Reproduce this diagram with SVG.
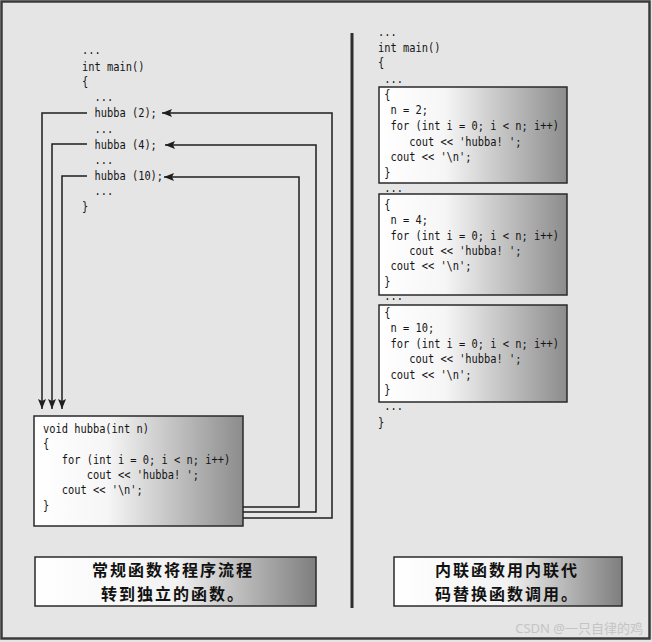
<svg xmlns="http://www.w3.org/2000/svg" width="652" height="642" viewBox="0 0 652 642">
<defs>
  <linearGradient id="gBox" x1="0" y1="0" x2="1" y2="0">
    <stop offset="0" stop-color="#ffffff"/>
    <stop offset="0.35" stop-color="#f6f6f6"/>
    <stop offset="1" stop-color="#8c8c8c"/>
  </linearGradient>
  <linearGradient id="gLabel" x1="0" y1="0" x2="1" y2="0">
    <stop offset="0" stop-color="#ffffff"/>
    <stop offset="0.5" stop-color="#f2f2f2"/>
    <stop offset="1" stop-color="#7e7e7e"/>
  </linearGradient>
  <marker id="ah" markerWidth="10" markerHeight="8" refX="10" refY="4" orient="auto" markerUnits="userSpaceOnUse">
    <path d="M0,0 L10,4 L0,8 L2,4 z" fill="#1e1e1e"/>
  </marker>
</defs>
<style>
  .code { font-family: "DejaVu Sans Mono", "Liberation Mono", monospace; font-size: 12.5px; fill: #141414; }
  .box { fill: url(#gBox); stroke: #2a2a2a; stroke-width: 1.5; }
  .label { fill: url(#gLabel); stroke: #2a2a2a; stroke-width: 1.5; }
  .lt { font-family: "Noto Sans CJK SC", sans-serif; font-weight: bold; font-size: 16px; letter-spacing: 2px; fill: #111; text-anchor: middle; }
  .conn { fill: none; stroke: #1e1e1e; stroke-width: 1.5; }
  .arr { marker-end: url(#ah); }
</style>
<rect x="0" y="0" width="652" height="642" fill="#e5e5e5"/>
<rect x="1.5" y="1.5" width="648" height="637" fill="none" stroke="#3a3a3a" stroke-width="2.5"/>

<!-- divider -->
<line x1="352" y1="33" x2="352" y2="608" stroke="#2e2e2e" stroke-width="3"/>

<!-- left: main() code -->
<g id="main-left">
  <g class="code" transform="translate(82,0) scale(0.83,1)">
    <text x="0" y="54">...</text>
    <text x="0" y="71">int main()</text>
    <text x="0" y="86">{</text>
    <text x="15.06" y="101">...</text>
    <text x="15.06" y="117">hubba (2);</text>
    <text x="15.06" y="133">...</text>
    <text x="15.06" y="149">hubba (4);</text>
    <text x="15.06" y="164">...</text>
    <text x="15.06" y="180">hubba (10);</text>
    <text x="15.06" y="195">...</text>
    <text x="0" y="211">}</text>
  </g>
</g>

<!-- left: hubba function box -->
<g id="hubba-func">
  <rect class="box" x="34" y="416" width="209" height="110"/>
  <g class="code" transform="translate(43,0) scale(0.83,1)">
    <text x="0" y="433">void hubba(int n)</text>
    <text x="0" y="448">{</text>
    <text x="22.6" y="464">for (int i = 0; i &lt; n; i++)</text>
    <text x="52.7" y="479">cout &lt;&lt; 'hubba! ';</text>
    <text x="22.6" y="494">cout &lt;&lt; '\n';</text>
    <text x="0" y="510">}</text>
  </g>
</g>

<!-- connectors -->
<g id="connectors">
  <path class="conn arr" d="M87,113 H42 V409"/>
  <path class="conn arr" d="M87,144 H52 V409"/>
  <path class="conn arr" d="M87,176 H62 V409"/>
  <path class="conn arr" d="M243,518 H332 V113 H162"/>
  <path class="conn arr" d="M243,512 H316 V145 H165"/>
  <path class="conn arr" d="M243,507 H299 V177 H164"/>
</g>

<!-- right: inline main() -->
<g id="main-right">
  <g class="code" transform="translate(378,0) scale(0.83,1)">
    <text x="0" y="36">...</text>
    <text x="0" y="52">int main()</text>
    <text x="0" y="67">{</text>
    <text x="7.53" y="83">...</text>
    <text x="7.53" y="192">...</text>
    <text x="7.53" y="300">...</text>
    <text x="7.53" y="410">...</text>
    <text x="0" y="427">}</text>
  </g>
</g>

<g id="inline-1">
  <rect class="box" x="379" y="87" width="188" height="96"/>
  <g class="code" transform="translate(378,0) scale(0.83,1)">
    <text x="7.53" y="99">{</text>
    <text x="15.06" y="114">n = 2;</text>
    <text x="15.06" y="130">for (int i = 0; i &lt; n; i++)</text>
    <text x="37.65" y="146">cout &lt;&lt; 'hubba! ';</text>
    <text x="15.06" y="161">cout &lt;&lt; '\n';</text>
    <text x="7.53" y="177">}</text>
  </g>
</g>

<g id="inline-2">
  <rect class="box" x="379" y="194" width="188" height="101"/>
  <g class="code" transform="translate(378,0) scale(0.83,1)">
    <text x="7.53" y="209">{</text>
    <text x="15.06" y="224">n = 4;</text>
    <text x="15.06" y="240">for (int i = 0; i &lt; n; i++)</text>
    <text x="37.65" y="255">cout &lt;&lt; 'hubba! ';</text>
    <text x="15.06" y="270">cout &lt;&lt; '\n';</text>
    <text x="7.53" y="286">}</text>
  </g>
</g>

<g id="inline-3">
  <rect class="box" x="379" y="305" width="188" height="97"/>
  <g class="code" transform="translate(378,0) scale(0.83,1)">
    <text x="7.53" y="317">{</text>
    <text x="15.06" y="332">n = 10;</text>
    <text x="15.06" y="348">for (int i = 0; i &lt; n; i++)</text>
    <text x="37.65" y="363">cout &lt;&lt; 'hubba! ';</text>
    <text x="15.06" y="379">cout &lt;&lt; '\n';</text>
    <text x="7.53" y="394">}</text>
  </g>
</g>

<!-- labels -->
<g id="label-left">
  <rect class="label" x="35" y="557" width="281" height="49"/>
  <text class="lt" x="173" y="576">常规函数将程序流程</text>
  <text class="lt" x="173" y="600">转到独立的函数。</text>
</g>
<g id="label-right">
  <rect class="label" x="394" y="557" width="228" height="49"/>
  <text class="lt" x="507" y="576">内联函数用内联代</text>
  <text class="lt" x="507" y="600">码替换函数调用。</text>
</g>

<text x="643" y="633" text-anchor="end" font-family="Noto Sans, Noto Sans CJK SC, sans-serif" font-size="13" fill="#c4c4c4">CSDN @一只自律的鸡</text>
</svg>
